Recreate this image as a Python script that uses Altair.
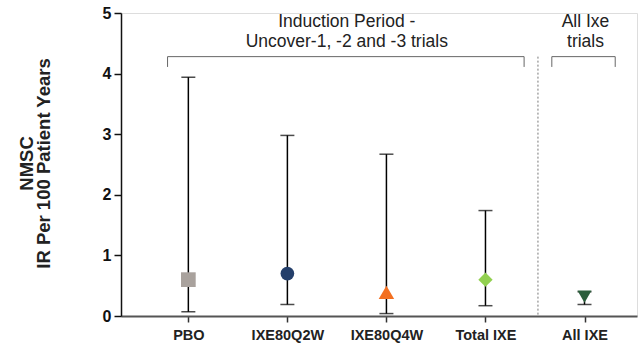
import altair as alt
import pandas as pd

# ---- data ----
categories = ["PBO", "IXE80Q2W", "IXE80Q4W", "Total IXE", "All IXE"]
positions = [1, 2, 3, 4, 5]
ir_values = [0.60, 0.70, 0.39, 0.60, 0.32]
ci_low = [0.07, 0.19, 0.04, 0.17, 0.19]
ci_high = [3.94, 2.98, 2.67, 1.74, 0.40]
shapes = ["square", "circle", "triangle-up", "diamond", "triangle-down"]
colors = ["#A9A29D", "#243F6B", "#F37021", "#92D050", "#2B5E3B"]
sizes = [216, 188, 240, 205, 200]

# bracket / annotation geometry in data units
bracket_x = [0.79, 4.67]
bracket_x2 = [4.39, 5.31]
bracket_top = 4.28
bracket_drop = 4.11
divider_x = [4.53]
group_labels = ["Induction Period -\nUncover-1, -2 and -3 trials", "All Ixe\ntrials"]
group_label_x = [2.60, 5.01]
group_label_y = [4.856, 4.856]

df = pd.DataFrame({
    "cat": categories, "pos": positions, "ir": ir_values,
    "lo": ci_low, "hi": ci_high, "shape": shapes, "color": colors, "size": sizes,
})
br = pd.DataFrame({"x": bracket_x, "x2": bracket_x2,
                   "top": [bracket_top] * 2, "drop": [bracket_drop] * 2})
br_v = pd.DataFrame({"x": bracket_x + bracket_x2,
                     "top": [bracket_top] * 4, "drop": [bracket_drop] * 4})
div = pd.DataFrame({"x": divider_x, "top": [bracket_top], "bot": [0]})
lab = pd.DataFrame({"t": group_labels, "x": group_label_x, "y": group_label_y})

label_expr = " : ".join(
    [f"datum.value == {p} ? '{c}'" for p, c in zip(positions, categories)]
) + " : ''"

xscale = alt.Scale(domain=[0.32, 5.53], nice=False, zero=False)
yscale = alt.Scale(domain=[0, 5], nice=False)

x_axis = alt.Axis(
    values=positions, labelExpr=label_expr, title=None, grid=False,
    domainColor="#555555", domainWidth=1.8, tickColor="#333333", tickWidth=1.5,
    tickSize=6, labelFont="Liberation Sans", labelFontSize=14.5,
    labelFontWeight="bold", labelColor="#222222", labelPadding=6,
)
y_axis = alt.Axis(
    values=[0, 1, 2, 3, 4, 5], format="d", grid=False,
    title=["NMSC", "IR Per 100 Patient Years"],
    domainColor="#111111", domainWidth=1.5, tickColor="#111111", tickWidth=1.5,
    tickSize=7, labelFont="Liberation Sans", labelFontSize=16, labelFontWeight="bold",
    labelColor="#111111", labelPadding=3,
    titleFont="Liberation Sans", titleFontSize=18.5, titleFontWeight="bold",
    titleColor="#222222", titleLineHeight=17, titleAngle=270, titleAlign="center",
    titleBaseline="bottom", titleX=-85, titleY=150,
)

base = alt.Chart(df)

err = base.mark_rule(color="black", strokeWidth=1.5).encode(
    x=alt.X("pos:Q", scale=xscale, axis=x_axis),
    y=alt.Y("lo:Q", scale=yscale, axis=y_axis),
    y2="hi:Q",
)
cap_lo = base.mark_tick(color="black", orient="horizontal", size=14, thickness=1.5).encode(
    x=alt.X("pos:Q", scale=xscale), y=alt.Y("lo:Q", scale=yscale))
cap_hi = base.mark_tick(color="black", orient="horizontal", size=14, thickness=1.5).encode(
    x=alt.X("pos:Q", scale=xscale), y=alt.Y("hi:Q", scale=yscale))

pts = base.mark_point(filled=True, opacity=1, strokeWidth=0).encode(
    x=alt.X("pos:Q", scale=xscale),
    y=alt.Y("ir:Q", scale=yscale),
    shape=alt.Shape("cat:N", scale=alt.Scale(domain=categories, range=shapes), legend=None),
    color=alt.Color("cat:N", scale=alt.Scale(domain=categories, range=colors), legend=None),
    size=alt.Size("size:Q", scale=None, legend=None),
)

br_h = alt.Chart(br).mark_rule(color="#666666", strokeWidth=1).encode(
    x=alt.X("x:Q", scale=xscale), x2="x2:Q", y=alt.Y("top:Q", scale=yscale))
br_d = alt.Chart(br_v).mark_rule(color="#666666", strokeWidth=1).encode(
    x=alt.X("x:Q", scale=xscale), y=alt.Y("top:Q", scale=yscale), y2="drop:Q")
div_l = alt.Chart(div).mark_rule(color="#777777", strokeWidth=1, strokeDash=[2, 2]).encode(
    x=alt.X("x:Q", scale=xscale), y=alt.Y("top:Q", scale=yscale), y2="bot:Q")

txt = alt.Chart(lab).mark_text(
    font="Liberation Sans", fontSize=17.5, color="#222222", lineBreak="\n",
    lineHeight=20, align="center", baseline="middle",
).encode(x=alt.X("x:Q", scale=xscale), y=alt.Y("y:Q", scale=yscale), text="t:N")

chart = alt.layer(err, cap_lo, cap_hi, br_h, br_d, div_l, txt, pts).properties(
    width=516, height=303,
    autosize=alt.AutoSizeParams(type="none"),
    padding={"left": 121, "top": 13, "right": 2, "bottom": 33},
).configure_view(stroke=None).configure(background="white")

chart.save("out.html", embed_options={"renderer": "svg", "actions": False})
